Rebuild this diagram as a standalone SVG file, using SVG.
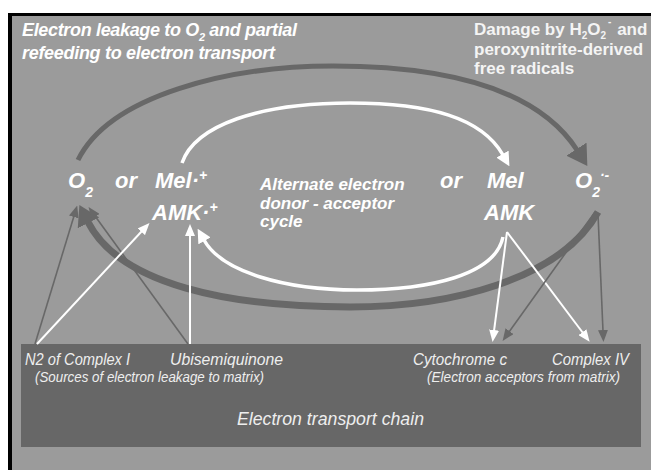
<svg xmlns="http://www.w3.org/2000/svg" width="651" height="470" viewBox="0 0 651 470">
<style>
.lbl{font-family:"Liberation Sans",Arial,sans-serif;font-weight:bold;font-style:italic;fill:#fff}
.big{font-size:22px}
.mid{font-size:17px}
.ttl{font-size:18px}
.hdr{font-family:"Liberation Sans",Arial,sans-serif;font-weight:bold;font-size:17px;fill:#f4f4f4}
.box{font-family:"Liberation Sans",Arial,sans-serif;font-style:italic;fill:#eeeeee}
.dk{fill:none;stroke:#686868}
.wt{fill:none;stroke:#ffffff}
</style>
<defs>
<marker id="mDk" markerUnits="userSpaceOnUse" viewBox="0 0 20 24" markerWidth="20" markerHeight="24" refX="1" refY="12" orient="auto"><path d="M0,0 L20,12 L0,24 z" fill="#686868"/></marker>
<marker id="mWt" markerUnits="userSpaceOnUse" viewBox="0 0 14 14" markerWidth="14" markerHeight="14" refX="1" refY="7" orient="auto"><path d="M0,0 L14,7 L0,14 z" fill="#ffffff"/></marker>
<marker id="mWs" markerUnits="userSpaceOnUse" viewBox="0 0 12 10" markerWidth="12" markerHeight="10" refX="1" refY="5" orient="auto"><path d="M0,0 L12,5 L0,10 z" fill="#ffffff"/></marker>
<marker id="mDs" markerUnits="userSpaceOnUse" viewBox="0 0 12 10" markerWidth="12" markerHeight="10" refX="1" refY="5" orient="auto"><path d="M0,0 L12,5 L0,10 z" fill="#686868"/></marker>
</defs>
<rect x="0" y="0" width="651" height="470" fill="#ffffff"/>
<rect x="8" y="13" width="643" height="457" fill="#000000"/>
<rect x="12" y="16" width="639" height="454" fill="#9b9b9b"/>

<g id="etc-box">
<rect x="21" y="344" width="620" height="103" fill="#676767"/>
<text class="box" x="237" y="425" font-size="19" textLength="187" lengthAdjust="spacingAndGlyphs">Electron transport chain</text>
</g>

<g id="connectors">
<path class="dk" stroke-width="5" d="M78,160 C110,95 230,66 333,66 C450,66 538,90 577,150" marker-end="url(#mDk)"/>
<path class="dk" stroke-width="7" d="M598,212 C560,280 450,307 350,307 C230,307 120,285 88,222" marker-end="url(#mDk)"/>
<path class="wt" stroke-width="3.5" d="M182,163 C195,125 260,103 350,103 C430,103 482,118 503,155" marker-end="url(#mWt)"/>
<path class="wt" stroke-width="3.5" d="M503,237 C495,275 430,290 357,290 C285,290 222,272 204,240" marker-end="url(#mWt)"/>
<line class="dk" stroke-width="1.6" x1="35" y1="344" x2="74" y2="216" marker-end="url(#mDs)"/>
<line class="dk" stroke-width="1.6" x1="188" y1="344" x2="95" y2="216" marker-end="url(#mDs)"/>
<line class="wt" stroke-width="2" x1="37" y1="344" x2="142" y2="231" marker-end="url(#mWs)"/>
<line class="wt" stroke-width="2" x1="190" y1="344" x2="190" y2="235" marker-end="url(#mWs)"/>
<line class="wt" stroke-width="2" x1="507" y1="232" x2="494" y2="331" marker-end="url(#mWs)"/>
<line class="wt" stroke-width="2" x1="507" y1="232" x2="583" y2="333" marker-end="url(#mWs)"/>
<line class="dk" stroke-width="1.6" x1="595" y1="212" x2="509" y2="332" marker-end="url(#mDs)"/>
<line class="dk" stroke-width="1.6" x1="598" y1="214" x2="603" y2="331" marker-end="url(#mDs)"/>
</g>

<g id="title-left">
<text class="lbl ttl" x="22" y="36" textLength="275">Electron leakage to O<tspan font-size="11" dy="5">2</tspan><tspan dy="-5"> and partial</tspan></text>
<text class="lbl ttl" x="22" y="59" textLength="253">refeeding to electron transport</text>
</g>
<g id="title-right">
<text class="hdr" x="474" y="35">Damage by H<tspan font-size="10" dy="4">2</tspan><tspan dy="-4">O</tspan><tspan font-size="10" dy="4">2</tspan><tspan font-size="10" dx="2" dy="-14">-</tspan><tspan dx="1" dy="10"> and</tspan></text>
<text class="hdr" x="474" y="54.5">peroxynitrite-derived</text>
<text class="hdr" x="474" y="74">free radicals</text>
</g>

<g id="node-o2">
<text class="lbl big" x="68" y="188">O<tspan font-size="14" dy="9">2</tspan></text>
</g>
<g id="node-or-left"><text class="lbl big" x="115" y="188">or</text></g>
<g id="node-mel-radical">
<text class="lbl big" x="155" y="188">Mel·<tspan font-size="14" dy="-8">+</tspan></text>
<text class="lbl big" x="152" y="220">AMK·<tspan font-size="14" dy="-8">+</tspan></text>
</g>
<g id="node-cycle">
<text class="lbl mid" x="260" y="190">Alternate electron</text>
<text class="lbl mid" x="260" y="209">donor - acceptor</text>
<text class="lbl mid" x="260" y="227">cycle</text>
</g>
<g id="node-or-right"><text class="lbl big" x="440" y="188">or</text></g>
<g id="node-mel">
<text class="lbl big" x="487" y="188">Mel</text>
<text class="lbl big" x="484" y="220">AMK</text>
</g>
<g id="node-superoxide">
<text class="lbl big" x="575" y="188">O<tspan font-size="14" dy="9">2</tspan><tspan font-size="14" dy="-17">·-</tspan></text>
</g>

<g id="node-n2">
<text class="box" x="25" y="365" font-size="16.5" textLength="105" lengthAdjust="spacingAndGlyphs">N2 of Complex I</text>
</g>
<g id="node-ubisemiquinone">
<text class="box" x="170" y="365" font-size="16.5" textLength="113" lengthAdjust="spacingAndGlyphs">Ubisemiquinone</text>
</g>
<g id="node-sources-note">
<text class="box" x="35" y="382" font-size="14" textLength="229" lengthAdjust="spacingAndGlyphs">(Sources of electron leakage to matrix)</text>
</g>
<g id="node-cytc">
<text class="box" x="413" y="365" font-size="16.5" textLength="94" lengthAdjust="spacingAndGlyphs">Cytochrome c</text>
</g>
<g id="node-complex4">
<text class="box" x="552" y="365" font-size="16.5" textLength="77" lengthAdjust="spacingAndGlyphs">Complex IV</text>
</g>
<g id="node-acceptors-note">
<text class="box" x="427" y="382" font-size="14" textLength="193" lengthAdjust="spacingAndGlyphs">(Electron acceptors from matrix)</text>
</g>
</svg>
